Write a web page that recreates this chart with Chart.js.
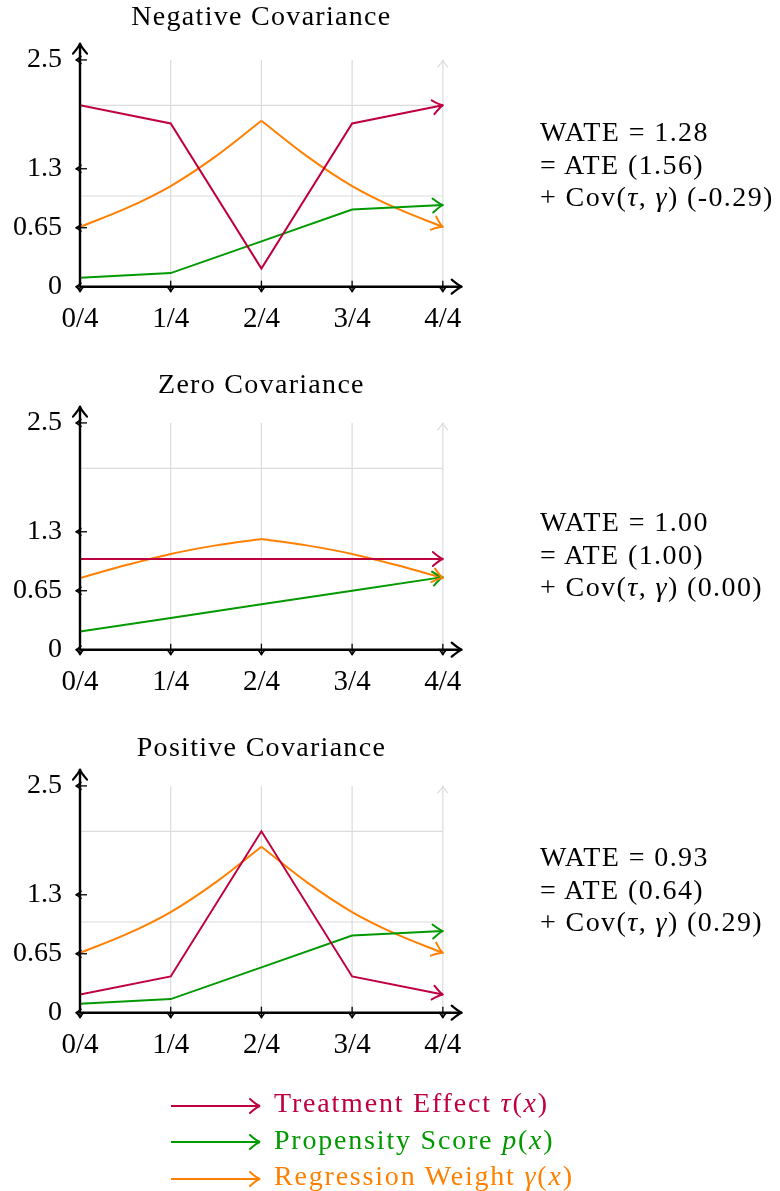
<!DOCTYPE html>
<html>
<head>
<meta charset="utf-8">
<script src="https://cdn.jsdelivr.net/npm/chart.js@4.4.0/dist/chart.umd.min.js"></script>
<style>
  body { margin: 0; background: #fff; }
  #wrap { position: relative; width: 780px; height: 1191px; font-family: "Liberation Serif", serif; color: #000; }
  canvas { position: absolute; left: 0; }
  .note { position: absolute; left: 540px; font-size: 28px; line-height: 32.5px; letter-spacing: 1.4px; white-space: nowrap; }
  .leg { position: absolute; left: 170px; font-size: 28px; line-height: 36.7px; letter-spacing: 1.8px; white-space: nowrap; }
  .leg svg { vertical-align: middle; margin-right: 12px; }
</style>
</head>
<body>
<div id="wrap">
  <canvas id="c0" width="780" height="363" style="top:0px"></canvas>
  <canvas id="c1" width="780" height="363" style="top:363px"></canvas>
  <canvas id="c2" width="780" height="363" style="top:726px"></canvas>
</div>
<script>
// x positions and ticks
var xValues = [0, 0.25, 0.5, 0.75, 1];
var xFine = [0, 0.125, 0.25, 0.375, 0.5, 0.625, 0.75, 0.875, 1];
var xTickLabels = ['0/4', '1/4', '2/4', '3/4', '4/4'];
var xGridValues = [0.25, 0.5, 0.75, 1];
var yTickValues = [0, 0.65, 1.3, 2.5];
var yGridValues = [1, 2];

var titles = ['Negative Covariance', 'Zero Covariance', 'Positive Covariance'];

// treatment effect tau(x)
var tauNeg = [2.0, 1.8, 0.2, 1.8, 2.0];
var tauZero = [1.0, 1.0, 1.0, 1.0, 1.0];
var tauPos = [0.2, 0.4, 2.0, 0.4, 0.2];
// propensity score p(x)
var propNeg = [0.1, 0.15, 0.5, 0.85, 0.9];
var propZero = [0.2, 0.35, 0.5, 0.65, 0.8];
var propPos = [0.1, 0.15, 0.5, 0.85, 0.9];
// regression weight gamma(x), read on the eighths
var gammaNeg = [0.66, 0.86, 1.11, 1.44, 1.83, 1.44, 1.11, 0.86, 0.66];
var gammaZero = [0.79, 0.93, 1.055, 1.15, 1.22, 1.15, 1.055, 0.93, 0.79];
var gammaPos = [0.66, 0.86, 1.11, 1.44, 1.83, 1.44, 1.11, 0.86, 0.66];

var wate = ['1.28', '1.00', '0.93'];
var ate = ['1.56', '1.00', '0.64'];
var cov = ['-0.29', '0.00', '0.29'];

var seriesNames = ['Treatment Effect ', 'Propensity Score ', 'Regression Weight '];
var seriesMath = ['τ', 'p', 'γ'];
var colors = ['#bf0040', '#009900', '#ff8000'];

var tauSets = [tauNeg, tauZero, tauPos];
var propSets = [propNeg, propZero, propPos];
var gammaSets = [gammaNeg, gammaZero, gammaPos];

var titleBase = [25, 29.7, 29.7];
var noteTop = [116, 506, 841];
var FONT = '"Liberation Serif", serif';

function arrowHead(ctx, x, y, ang, len, color, lw){
    ctx.save();
    ctx.translate(x, y);
    ctx.rotate(ang);
    ctx.strokeStyle = color;
    ctx.lineWidth = lw;
    ctx.lineCap = 'round';
    ctx.lineJoin = 'round';
    ctx.beginPath();
    ctx.moveTo(-len, -len * 0.7);
    ctx.quadraticCurveTo(-len * 0.3, -len * 0.1, 0, 0);
    ctx.quadraticCurveTo(-len * 0.3, len * 0.1, -len, len * 0.7);
    ctx.stroke();
    ctx.restore();
}

var axesPlugin = {
    id: 'pgfAxes',
    beforeDatasetsDraw: function(chart){
        var ctx = chart.ctx, xs = chart.scales.x, ys = chart.scales.y;
        ctx.save();
        ctx.strokeStyle = '#dcdcdc';
        ctx.lineWidth = 1.2;
        xGridValues.forEach(function(v){
            var px = xs.getPixelForValue(v);
            ctx.beginPath();
            ctx.moveTo(px, ys.getPixelForValue(0));
            ctx.lineTo(px, ys.getPixelForValue(2.5));
            ctx.stroke();
        });
        yGridValues.forEach(function(v){
            var py = ys.getPixelForValue(v);
            ctx.beginPath();
            ctx.moveTo(xs.getPixelForValue(0), py);
            ctx.lineTo(xs.getPixelForValue(1), py);
            ctx.stroke();
        });
        ctx.restore();
        arrowHead(ctx, xs.getPixelForValue(1), ys.getPixelForValue(2.5), -Math.PI / 2, 7, '#dcdcdc', 1.2);
    },
    afterDatasetsDraw: function(chart){
        var ctx = chart.ctx, xs = chart.scales.x, ys = chart.scales.y;
        // arrow heads at the end of every line
        chart.data.datasets.forEach(function(ds, i){
            if (ds.noArrow) return;
            var pts = chart.getDatasetMeta(i).data;
            var a = pts[pts.length - 2], b = pts[pts.length - 1];
            arrowHead(ctx, b.x, b.y, Math.atan2(b.y - a.y, b.x - a.x), 10, ds.borderColor, 2);
        });
        var x0 = xs.getPixelForValue(0), y0 = ys.getPixelForValue(0);
        ctx.save();
        ctx.strokeStyle = '#000';
        ctx.lineWidth = 2.4;
        ctx.beginPath();
        ctx.moveTo(x0, y0);
        ctx.lineTo(x0, chart.chartArea.top);
        ctx.moveTo(x0, y0);
        ctx.lineTo(chart.chartArea.right, y0);
        ctx.stroke();
        ctx.lineWidth = 1.3;
        yTickValues.forEach(function(v){
            var py = ys.getPixelForValue(v);
            ctx.beginPath();
            ctx.moveTo(x0 - 4, py);
            ctx.lineTo(x0 + 7, py);
            ctx.stroke();
        });
        xValues.forEach(function(v){
            var px = xs.getPixelForValue(v);
            ctx.beginPath();
            ctx.moveTo(px, y0 - 6);
            ctx.lineTo(px, y0 + 5);
            ctx.stroke();
        });
        ctx.restore();
        yTickValues.forEach(function(v){
            arrowHead(ctx, x0 - 4, ys.getPixelForValue(v), Math.PI, 5, '#000', 1.6);
        });
        xValues.forEach(function(v){
            arrowHead(ctx, xs.getPixelForValue(v), y0 + 5, Math.PI / 2, 5, '#000', 1.6);
        });
        arrowHead(ctx, x0, chart.chartArea.top, -Math.PI / 2, 10, '#000', 2.2);
        arrowHead(ctx, chart.chartArea.right, y0, 0, 10, '#000', 2.2);
        // title
        var idx = chart.options.panelIndex;
        ctx.save();
        ctx.fillStyle = '#000';
        ctx.font = '28px ' + FONT;
        ctx.letterSpacing = '1.3px';
        ctx.textAlign = 'center';
        ctx.textBaseline = 'alphabetic';
        ctx.fillText(titles[idx], xs.getPixelForValue(0.5), titleBase[idx]);
        ctx.restore();
    }
};

function points(xsArr, ysArr){
    return xsArr.map(function(x, i){ return {x: x, y: ysArr[i]}; });
}

function makePanel(idx){
    var ctx = document.getElementById('c' + idx);
    var g = points(xFine, gammaSets[idx]);
    var datasets = [
        { label: seriesNames[0] + seriesMath[0] + '(x)', data: points(xValues, tauSets[idx]), borderColor: colors[0], tension: 0 },
        { label: seriesNames[1] + seriesMath[1] + '(x)', data: points(xValues, propSets[idx]), borderColor: colors[1], tension: 0 },
        // gamma drawn as two smooth halves so the peak keeps its corner
        { label: seriesNames[2] + seriesMath[2] + '(x)', data: g.slice(0, 5), borderColor: colors[2], cubicInterpolationMode: 'monotone', noArrow: true },
        { label: seriesNames[2] + seriesMath[2] + '(x)', data: g.slice(4), borderColor: colors[2], cubicInterpolationMode: 'monotone' }
    ];
    datasets.forEach(function(d){
        d.borderWidth = 2;
        d.pointRadius = 0;
        d.fill = false;
    });
    var config = {
        type: 'line',
        data: { datasets: datasets },
        plugins: [axesPlugin],
        options: {
            panelIndex: idx,
            responsive: false,
            animation: false,
            layout: { padding: { top: 43.6, right: 318.3, left: 0, bottom: 0 } },
            plugins: {
                legend: { display: false },
                tooltip: { enabled: false },
                title: { display: false }
            },
            scales: {
                x: {
                    type: 'linear',
                    min: 0,
                    max: 1.052,
                    grid: { display: false, drawTicks: false },
                    border: { display: false },
                    afterBuildTicks: function(s){ s.ticks = xValues.map(function(v){ return {value: v}; }); },
                    afterFit: function(s){ s.height = 76.3; },
                    ticks: {
                        color: '#000',
                        font: { family: FONT, size: 29 },
                        padding: 15,
                        maxRotation: 0,
                        autoSkip: false,
                        callback: function(v){ return xTickLabels[xValues.indexOf(v)]; }
                    }
                },
                y: {
                    type: 'linear',
                    min: 0,
                    max: 2.68,
                    grid: { display: false, drawTicks: false },
                    border: { display: false },
                    afterBuildTicks: function(s){ s.ticks = yTickValues.map(function(v){ return {value: v}; }); },
                    afterFit: function(s){ s.width = 80; },
                    ticks: {
                        color: '#000',
                        font: { family: FONT, size: 28 },
                        padding: 18,
                        autoSkip: false,
                        callback: function(v){ return String(v); }
                    }
                }
            }
        }
    };
    return new Chart(ctx, config);
}

var wrap = document.getElementById('wrap');
[0, 1, 2].forEach(function(i){
    makePanel(i);
    var n = document.createElement('div');
    n.className = 'note';
    n.style.top = noteTop[i] + 'px';
    n.innerHTML = 'WATE = ' + wate[i] + '<br>= ATE (' + ate[i] + ')<br>+ Cov(<i>τ</i>, <i>γ</i>) (' + cov[i] + ')';
    wrap.appendChild(n);
});

// legend
seriesNames.forEach(function(name, i){
    var row = document.createElement('div');
    row.className = 'leg';
    row.style.top = (1085 + i * 36.7) + 'px';
    row.style.color = colors[i];
    row.innerHTML = '<svg width="92" height="16" viewBox="0 0 92 16">' +
        '<path d="M1 8 L90 8" stroke="' + colors[i] + '" stroke-width="2" fill="none"/>' +
        '<path d="M80 1 Q87 7.3 90 8 Q87 8.7 80 15" stroke="' + colors[i] + '" stroke-width="2" fill="none" stroke-linecap="round"/>' +
        '</svg>' + name + '<i>' + seriesMath[i] + '</i>(<i>x</i>)';
    wrap.appendChild(row);
});
</script>
</body>
</html>
